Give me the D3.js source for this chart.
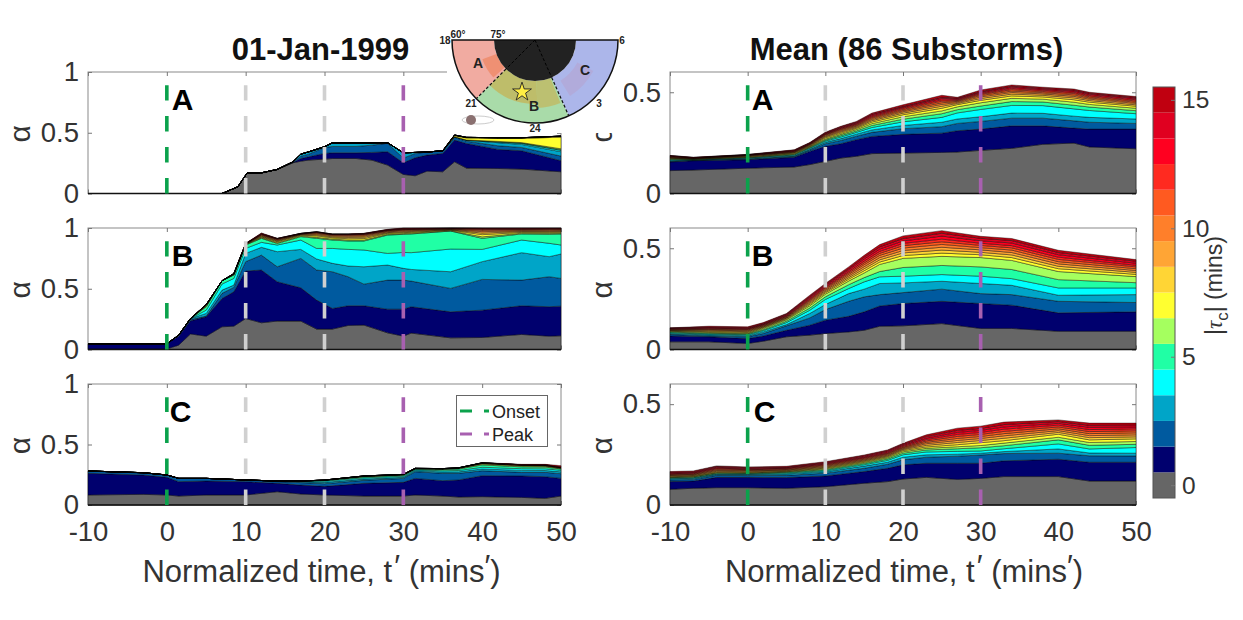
<!DOCTYPE html>
<html>
<head>
<meta charset="utf-8">
<script src="https://cdn.jsdelivr.net/npm/d3@7"></script>
<style>
  html, body { margin: 0; background: #fff; }
  svg { display: block; }
  text { font-family: "Liberation Sans", Arial, sans-serif; }
  .tick text { fill: #333; font-size: 27.5px; }
  .tick line { stroke: #777; }
  .box { fill: none; stroke: #8a8a8a; stroke-width: 1; }
</style>
</head>
<body>
<div id="chart"></div>
<script>
// layer thicknesses are alpha x 1000, one row per colour band, bottom band first
const bandColors = ['#666666', '#00006e', '#005a9f', '#00a5c8', '#00ffff', '#20ffa5', '#a5ff5f', '#ffff30',
  '#ffd535', '#ffa535', '#ff7f2a', '#ff5a20', '#ff2a20', '#ff0020', '#e00020', '#c00010'];
const xTicks = [-10, 0, 10, 20, 30, 40, 50];
const barTicks = [0, 5, 10, 15];

const eventATimes = [-10, 7, 9, 10.2, 12, 14, 16, 17, 18, 20, 21, 24, 26, 28, 30, 31.5, 33, 35, 36.5, 38, 42, 45, 50];
const eventA = [
  [0, 0, 55, 170, 170, 198, 253, 266, 275, 283, 288, 288, 275, 234, 157, 146, 184, 179, 261, 209, 206, 201, 179],
  [0, 0, 0, 0, 0, 0, 2, 22, 27, 47, 47, 47, 63, 110, 96, 148, 132, 151, 179, 203, 157, 151, 91],
  [0, 0, 0, 0, 0, 0, 3, 19, 22, 49, 52, 52, 60, 69, 38, 36, 25, 19, 22, 19, 30, 27, 38],
  [0, 0, 0, 0, 0, 0, 3, 17, 19, 6, 30, 30, 19, 5, 44, 8, 0, 3, 6, 8, 25, 25, 36],
  [0, 0, 0, 0, 0, 0, 0, 0, 0, 0, 0, 0, 0, 0, 0, 0, 0, 0, 0, 2, 6, 8, 11],
  [0, 0, 0, 0, 0, 0, 0, 0, 0, 0, 0, 0, 0, 0, 0, 0, 0, 0, 0, 0, 2, 3, 5],
  [0, 0, 0, 0, 0, 0, 0, 0, 0, 0, 0, 0, 0, 0, 0, 0, 0, 0, 0, 0, 3, 4, 8],
  [0, 0, 0, 0, 0, 0, 0, 0, 0, 0, 0, 0, 0, 0, 0, 0, 0, 0, 8, 16, 24, 34, 96],
  [0, 0, 0, 0, 0, 0, 0, 0, 0, 0, 0, 0, 0, 0, 0, 0, 0, 0, 5, 5, 6, 6, 8]
];

const eventBTimes = [-10, 0, 1.5, 3, 5, 7, 8.5, 10, 12, 14, 17, 19, 21, 23, 25, 28, 30, 31, 36, 40, 45, 48.5, 50];
const eventB = [
  [5, 5, 36, 128, 110, 187, 192, 255, 220, 234, 234, 168, 168, 198, 201, 137, 110, 135, 96, 99, 124, 110, 113],
  [42, 42, 74, 108, 159, 233, 283, 391, 434, 324, 274, 239, 170, 162, 159, 195, 222, 217, 214, 225, 236, 242, 244],
  [0, 0, 8, 11, 6, 42, 36, 77, 123, 123, 242, 247, 302, 239, 178, 239, 239, 211, 193, 253, 211, 247, 228],
  [0, 0, 0, 8, 22, 27, 19, 68, 64, 124, 74, 91, 69, 88, 143, 124, 97, 96, 137, 146, 226, 165, 201],
  [0, 0, 0, 0, 27, 50, 55, 41, 41, 55, 77, 87, 123, 137, 138, 96, 131, 138, 187, 101, 104, 110, 74],
  [0, 0, 0, 0, 28, 27, 28, 28, 33, 13, 28, 83, 69, 69, 74, 151, 149, 154, 148, 91, 50, 74, 91],
  [0, 0, 0, 0, 5, 0, 2, 3, 6, 6, 6, 8, 8, 8, 8, 6, 6, 6, 3, 12, 6, 8, 7],
  [0, 0, 0, 0, 5, 0, 3, 3, 6, 8, 6, 12, 10, 11, 12, 8, 8, 7, 4, 18, 7, 8, 7],
  [0, 0, 0, 0, 4, 0, 2, 2, 5, 6, 4, 8, 8, 10, 11, 6, 7, 7, 3, 13, 7, 7, 6],
  [0, 0, 0, 0, 3, 0, 2, 2, 5, 6, 3, 8, 8, 9, 10, 6, 7, 7, 3, 12, 6, 7, 7],
  [0, 0, 0, 0, 2, 0, 2, 1, 5, 5, 3, 7, 6, 8, 8, 5, 6, 6, 3, 10, 6, 7, 6],
  [0, 0, 0, 0, 0, 0, 1, 1, 4, 4, 2, 5, 4, 5, 5, 5, 5, 4, 3, 8, 5, 5, 5],
  [0, 0, 0, 0, 0, 0, 0, 0, 3, 3, 1, 3, 2, 3, 3, 3, 4, 3, 2, 5, 4, 3, 4],
  [0, 0, 0, 0, 0, 0, 0, 0, 3, 2, 1, 2, 2, 2, 3, 3, 3, 3, 2, 3, 3, 3, 3],
  [0, 0, 0, 0, 0, 0, 0, 0, 3, 1, 1, 1, 1, 1, 2, 3, 3, 3, 1, 2, 3, 2, 2],
  [0, 0, 0, 0, 0, 0, 1, 2, 4, 1, 0, 1, 1, 1, 1, 2, 3, 3, 1, 2, 2, 2, 2]
];

const eventCTimes = [-10, -3, 0, 1.5, 5, 10, 14, 17, 20, 25, 30, 31.5, 35, 37, 40, 45, 48, 50];
const eventC = [
  [83, 88, 83, 74, 83, 83, 110, 91, 83, 74, 74, 83, 74, 66, 69, 63, 55, 74],
  [179, 160, 146, 119, 115, 110, 69, 74, 71, 105, 113, 137, 127, 141, 173, 177, 179, 146],
  [19, 16, 19, 27, 22, 14, 14, 20, 22, 25, 33, 55, 61, 55, 41, 30, 36, 39],
  [0, 3, 0, 0, 0, 0, 5, 8, 11, 10, 9, 9, 11, 12, 15, 16, 15, 15],
  [0, 0, 0, 0, 0, 0, 0, 3, 10, 10, 9, 7, 10, 11, 14, 14, 14, 13],
  [0, 0, 0, 0, 0, 0, 0, 2, 6, 8, 8, 6, 10, 12, 19, 15, 14, 11],
  [0, 0, 0, 0, 0, 0, 0, 0, 2, 4, 3, 3, 4, 5, 8, 7, 7, 4],
  [0, 0, 0, 0, 0, 0, 0, 0, 1, 2, 2, 1, 2, 3, 4, 5, 4, 3],
  [0, 0, 0, 0, 0, 0, 0, 0, 0, 1, 1, 1, 1, 1, 2, 2, 2, 2],
  [0, 0, 0, 0, 0, 0, 0, 0, 0, 1, 1, 1, 1, 1, 2, 2, 2, 2],
  [0, 0, 0, 0, 0, 0, 0, 0, 0, 0, 0, 0, 0, 0, 1, 1, 2, 3],
  [0, 0, 0, 0, 0, 0, 0, 0, 0, 0, 0, 0, 0, 0, 0, 0, 0, 0],
  [0, 0, 0, 0, 0, 0, 0, 0, 0, 0, 0, 0, 0, 0, 0, 0, 0, 0],
  [0, 0, 0, 0, 0, 0, 0, 0, 0, 0, 0, 0, 0, 0, 1, 1, 2, 3],
  [0, 0, 0, 0, 0, 0, 0, 0, 0, 0, 0, 0, 0, 0, 0, 0, 0, 0],
  [0, 0, 0, 0, 0, 0, 0, 0, 0, 0, 0, 0, 0, 0, 1, 3, 4, 10]
];

const meanATimes = [-10, -7, 0, 6, 8, 10, 12, 14, 16, 20, 25, 27, 30, 34, 38, 42, 44, 50];
const meanA = [
  [113, 116, 125, 131, 143, 159, 175, 184, 197, 200, 203, 205, 213, 223, 243, 249, 230, 221],
  [43, 46, 42, 48, 65, 74, 71, 82, 85, 92, 95, 105, 105, 111, 91, 74, 88, 97],
  [3, 2, 3, 4, 6, 13, 16, 17, 20, 28, 32, 36, 38, 38, 38, 36, 34, 28],
  [3, 1, 3, 3, 4, 7, 9, 10, 12, 16, 22, 22, 23, 25, 24, 23, 24, 22],
  [4, 2, 3, 4, 5, 6, 8, 9, 12, 18, 24, 30, 36, 38, 38, 36, 34, 26],
  [3, 1, 2, 3, 4, 5, 7, 7, 10, 13, 18, 16, 17, 19, 18, 18, 17, 15],
  [3, 2, 2, 3, 3, 5, 6, 7, 9, 12, 14, 14, 16, 16, 14, 15, 13, 12],
  [2, 1, 2, 3, 3, 6, 6, 6, 8, 10, 13, 11, 12, 12, 11, 12, 11, 10],
  [2, 1, 2, 3, 3, 5, 6, 5, 7, 8, 10, 6, 9, 9, 8, 9, 8, 7],
  [2, 1, 2, 2, 3, 4, 5, 5, 6, 7, 9, 5, 8, 8, 7, 8, 7, 7],
  [2, 1, 2, 2, 3, 4, 5, 4, 6, 6, 8, 5, 7, 7, 6, 7, 6, 6],
  [2, 1, 1, 2, 2, 3, 4, 4, 5, 6, 8, 4, 6, 7, 6, 7, 6, 6],
  [2, 1, 1, 2, 2, 3, 4, 4, 5, 6, 7, 4, 5, 6, 6, 6, 6, 6],
  [2, 1, 1, 2, 2, 3, 3, 4, 5, 5, 7, 4, 5, 6, 5, 6, 6, 6],
  [1, 1, 1, 2, 2, 3, 4, 4, 5, 4, 6, 4, 4, 5, 5, 5, 5, 5],
  [1, 1, 1, 2, 2, 3, 3, 4, 5, 7, 9, 4, 7, 6, 5, 5, 5, 5]
];

const meanBTimes = [-10, -5, 0, 2, 5, 8, 10, 13, 15, 17, 20, 25, 30, 34, 40, 50];
const meanB = [
  [38, 38, 30, 41, 63, 71, 79, 87, 95, 115, 117, 128, 104, 104, 90, 90],
  [29, 25, 24, 26, 32, 49, 66, 77, 91, 100, 110, 110, 123, 115, 91, 96],
  [7, 4, 9, 12, 22, 36, 52, 74, 74, 56, 54, 60, 49, 52, 57, 46],
  [4, 5, 5, 8, 6, 22, 25, 38, 38, 55, 48, 39, 50, 46, 30, 39],
  [4, 4, 5, 6, 10, 16, 25, 25, 36, 33, 33, 33, 36, 33, 36, 33],
  [4, 4, 4, 5, 7, 11, 13, 19, 21, 26, 43, 45, 46, 45, 41, 26],
  [4, 4, 3, 6, 7, 11, 13, 18, 23, 35, 45, 45, 46, 45, 40, 30],
  [2, 4, 4, 4, 4, 7, 7, 9, 11, 12, 14, 16, 14, 14, 14, 11],
  [2, 4, 4, 3, 4, 6, 6, 8, 10, 11, 13, 15, 12, 13, 12, 10],
  [2, 4, 4, 3, 3, 6, 6, 8, 10, 11, 12, 14, 12, 12, 12, 9],
  [2, 3, 4, 3, 3, 6, 6, 8, 10, 11, 12, 14, 11, 12, 11, 9],
  [2, 3, 3, 3, 3, 5, 6, 7, 9, 10, 12, 13, 11, 11, 11, 9],
  [2, 3, 3, 3, 3, 5, 5, 7, 9, 10, 11, 13, 11, 11, 11, 8],
  [2, 3, 3, 3, 4, 6, 6, 8, 10, 11, 12, 15, 12, 13, 12, 10],
  [2, 3, 3, 3, 4, 5, 6, 7, 9, 11, 12, 14, 12, 12, 11, 10],
  [1, 4, 4, 4, 3, 6, 5, 8, 9, 11, 13, 13, 10, 10, 11, 8]
];

const meanCTimes = [-10, -7, -4, 0, 5, 10, 15, 18, 20, 23, 27, 30, 33, 40, 44, 50];
const meanC = [
  [78, 83, 86, 86, 83, 91, 108, 116, 129, 137, 127, 132, 141, 141, 119, 119],
  [38, 36, 51, 51, 53, 53, 58, 66, 70, 70, 80, 75, 78, 86, 93, 93],
  [8, 8, 10, 9, 11, 14, 16, 20, 25, 30, 35, 41, 36, 30, 32, 31],
  [6, 5, 5, 5, 7, 7, 11, 10, 13, 12, 10, 9, 10, 21, 14, 14],
  [3, 3, 3, 3, 4, 5, 7, 9, 12, 14, 14, 11, 14, 25, 20, 28],
  [3, 3, 3, 3, 4, 5, 6, 7, 8, 10, 13, 16, 15, 20, 18, 16],
  [2, 3, 3, 2, 3, 4, 5, 6, 7, 8, 10, 11, 13, 13, 14, 14],
  [2, 2, 2, 2, 2, 4, 4, 5, 6, 7, 10, 14, 12, 15, 13, 13],
  [3, 3, 4, 4, 3, 4, 4, 4, 5, 8, 11, 11, 12, 9, 11, 10],
  [3, 3, 4, 4, 3, 4, 4, 4, 4, 8, 10, 10, 12, 9, 10, 10],
  [3, 3, 4, 3, 3, 4, 4, 4, 4, 7, 10, 10, 11, 9, 10, 10],
  [3, 3, 4, 3, 3, 4, 4, 4, 4, 7, 10, 10, 11, 9, 10, 10],
  [3, 3, 4, 3, 3, 4, 4, 4, 5, 7, 10, 10, 11, 9, 10, 10],
  [3, 3, 4, 3, 3, 4, 4, 5, 5, 7, 10, 10, 11, 9, 11, 9],
  [4, 4, 4, 4, 3, 4, 5, 5, 5, 8, 10, 10, 12, 9, 10, 10],
  [4, 4, 3, 4, 4, 4, 4, 4, 4, 8, 11, 11, 12, 8, 11, 9]
];

const markerTimes = [0, 10, 20, 30];
const markerColors = ['#0ba24c', '#d0d0d0', '#d0d0d0', '#a860b0'];

const width = 1243, height = 620;
const svg = d3.select('#chart').append('svg').attr('width', width).attr('height', height);

const rows = [[72, 193.5], [228, 349.5], [384, 505]];
const columns = [
  { left: 88, right: 561, yMax: 1, yTicks: [0, 0.5, 1], markTop: 0.89 },
  { left: 670, right: 1136, yMax: 0.6, yTicks: [0, 0.5], markTop: 0.535 }
];
const panels = [
  { col: 0, row: 0, name: 'A', times: eventATimes, layers: eventA },
  { col: 0, row: 1, name: 'B', times: eventBTimes, layers: eventB },
  { col: 0, row: 2, name: 'C', times: eventCTimes, layers: eventC },
  { col: 1, row: 0, name: 'A', times: meanATimes, layers: meanA },
  { col: 1, row: 1, name: 'B', times: meanBTimes, layers: meanB },
  { col: 1, row: 2, name: 'C', times: meanCTimes, layers: meanC }
];

panels.forEach(p => {
  const c = columns[p.col];
  const [top, bottom] = rows[p.row];
  const x = d3.scaleLinear().domain([-10, 50]).range([c.left, c.right]);
  const y = d3.scaleLinear().domain([0, c.yMax]).range([bottom, top]);
  const g = svg.append('g');

  const table = p.times.map((t, i) => {
    const row = { t };
    bandColors.forEach((col, k) => { row[k] = p.layers[k] ? p.layers[k][i] / 1000 : 0; });
    return row;
  });
  const series = d3.stack().keys(d3.range(bandColors.length))(table);
  const area = d3.area().x(d => x(d.data.t)).y0(d => y(d[0])).y1(d => y(d[1]));

  g.append('rect').attr('class', 'box').attr('x', c.left).attr('y', top)
    .attr('width', c.right - c.left).attr('height', bottom - top);

  const bottomAxis = d3.axisBottom(x).tickValues(xTicks).tickSize(-4).tickPadding(16.5)
    .tickFormat(p.row === 2 ? d => String(d) : '');
  const topAxis = d3.axisTop(x).tickValues(xTicks).tickSize(-4).tickFormat('');
  const leftAxis = d3.axisLeft(y).tickValues(c.yTicks).tickSize(-4).tickPadding(9)
    .tickFormat(d => d === 0 || d === 1 ? d : '0.5');
  const rightAxis = d3.axisRight(y).tickValues(c.yTicks).tickSize(-4).tickFormat('');
  [[bottomAxis, `0,${bottom}`], [topAxis, `0,${top}`], [leftAxis, `${c.left},0`], [rightAxis, `${c.right},0`]]
    .forEach(([axis, tr]) => {
      const a = g.append('g').attr('transform', `translate(${tr})`).call(axis);
      a.select('.domain').remove();
    });

  g.selectAll('.band').data(series).enter().append('path')
    .attr('class', 'band')
    .attr('fill', s => bandColors[s.key])
    .attr('stroke', '#000')
    .attr('stroke-opacity', 0.7)
    .attr('stroke-width', 0.6)
    .attr('d', area);

  g.append('line').attr('x1', c.left).attr('x2', c.right).attr('y1', bottom).attr('y2', bottom)
    .attr('stroke', '#111').attr('stroke-width', 1.4);

  // dashes are laid out from the bottom upward
  markerTimes.forEach((t, i) => {
    g.append('line')
      .attr('x1', x(t)).attr('x2', x(t))
      .attr('y1', y(0)).attr('y2', y(c.markTop))
      .attr('stroke', markerColors[i])
      .attr('stroke-width', 3.6)
      .attr('stroke-dasharray', '15.5 15.5');
  });

  g.append('text').text(p.name)
    .attr('x', x(0) + (p.col === 0 ? (p.row === 2 ? 3 : 5) : (p.row === 2 ? 6 : 4)))
    .attr('y', top + 38)
    .attr('font-size', 30).attr('font-weight', 'bold').attr('fill', '#000');

  g.append('text').text('α')
    .attr('transform', `translate(${p.col === 0 ? 30 : 612},${(top + bottom) / 2 + 1}) rotate(-90)`)
    .attr('text-anchor', 'middle')
    .attr('font-family', 'Liberation Serif').attr('font-size', 30).attr('fill', '#333');

  if (p.row === 2) {
    const label = g.append('text')
      .attr('x', (c.left + c.right) / 2 - 3 + (p.col === 1 ? 4 : 0)).attr('y', 582)
      .attr('text-anchor', 'middle').attr('font-size', 31).attr('fill', '#333');
    label.append('tspan').text('Normalized time, t');
    label.append('tspan').text('′').attr('dy', -5).attr('dx', 2);
    label.append('tspan').text(' (mins').attr('dy', 5);
    label.append('tspan').text('′').attr('dy', -5);
    label.append('tspan').text(')').attr('dy', 5);
  }
});

svg.append('text').text('01-Jan-1999').attr('x', 320.5).attr('y', 60)
  .attr('text-anchor', 'middle').attr('font-size', 31).attr('font-weight', 'bold').attr('fill', '#111');
svg.append('text').text('Mean (86 Substorms)').attr('x', 906.5).attr('y', 60)
  .attr('text-anchor', 'middle').attr('font-size', 31).attr('font-weight', 'bold').attr('fill', '#111');

// legend in event panel C
const legend = svg.append('g');
legend.append('rect').attr('x', 456.5).attr('y', 395.5).attr('width', 91).attr('height', 51)
  .attr('fill', '#fff').attr('stroke', '#666').attr('stroke-width', 1);
[['Onset', '#0ba24c', 411], ['Peak', '#a860b0', 434]].forEach(([name, col, ly]) => {
  legend.append('line').attr('x1', 460).attr('x2', 489).attr('y1', ly).attr('y2', ly)
    .attr('stroke', col).attr('stroke-width', 3).attr('stroke-dasharray', '12 12');
  legend.append('text').text(name).attr('x', 492).attr('y', ly + 6.5)
    .attr('font-size', 18).attr('fill', '#222');
});

// colourbar
const barY = d3.scaleLinear().domain([-0.5, 15.5]).range([498, 87]);
const barX = 1153, barW = 22;
const bar = svg.append('g');
bar.selectAll('rect').data(bandColors).enter().append('rect')
  .attr('x', barX).attr('width', barW)
  .attr('y', (d, i) => barY(i + 0.5)).attr('height', (d, i) => barY(i - 0.5) - barY(i + 0.5))
  .attr('fill', d => d);
bar.append('rect').attr('class', 'box').attr('x', barX).attr('y', 87).attr('width', barW).attr('height', 411)
  .style('stroke', '#555');
const barAxis = bar.append('g').attr('transform', `translate(${barX + barW},0)`)
  .call(d3.axisRight(barY).tickValues(barTicks).tickSize(-4).tickPadding(7));
barAxis.select('.domain').remove();
barAxis.selectAll('text').style('font-size', '24.5px');

const barLabel = svg.append('text')
  .attr('transform', 'translate(1222,335) rotate(-90)')
  .attr('font-size', 23).attr('fill', '#333');
barLabel.append('tspan').text('|');
barLabel.append('tspan').text('τ').attr('font-family', 'Liberation Serif').attr('font-style', 'italic');
barLabel.append('tspan').text('c').attr('dy', 6).attr('font-size', 17);
barLabel.append('tspan').text('|').attr('dy', -6);
barLabel.append('tspan').text(' (mins)');

// auroral map inset, sits over the top right of event panel A
const inset = svg.append('g');
inset.append('rect').attr('x', 447).attr('y', 26).attr('width', 177).attr('height', 107).attr('fill', '#fff');
const map = inset.append('g').attr('transform', 'translate(535,40)');
const deg = Math.PI / 180;
const sectors = [
  { from: 225, to: 270, color: '#f1aba1' },
  { from: 156, to: 225, color: '#a9dba9' },
  { from: 90, to: 156, color: '#acb6ea' }
];
const patches = [
  { from: 228, to: 250, inner: 41, outer: 56, color: '#ee8560' },
  { from: 178, to: 225, inner: 41, outer: 64, color: '#c8b050' },
  { from: 158, to: 178, inner: 41, outer: 68, color: '#c4b55a' },
  { from: 118, to: 148, inner: 48, outer: 66, color: '#b4a6d4' }
];
const arc = d3.arc();
const sector = (s, inner, outer) => arc({ innerRadius: inner, outerRadius: outer, startAngle: s.from * deg, endAngle: s.to * deg });
sectors.forEach(s => {
  map.append('path').attr('d', sector(s, 41, 83)).attr('fill', s.color);
});
patches.forEach(s => {
  map.append('path').attr('d', sector(s, s.inner, s.outer)).attr('fill', s.color).attr('opacity', 0.7);
});
map.append('path').attr('d', sector({ from: 90, to: 270 }, 0, 41)).attr('fill', '#222');
map.append('path').attr('d', sector({ from: 90, to: 270 }, 0, 83))
  .attr('fill', 'none').attr('stroke', '#111').attr('stroke-width', 1.5);
[225, 156].forEach(a => {
  const sx = Math.sin(a * deg), cy = -Math.cos(a * deg);
  map.append('line').attr('x1', 41 * sx).attr('y1', 41 * cy).attr('x2', 83 * sx).attr('y2', 83 * cy)
    .attr('stroke', '#111').attr('stroke-width', 1.2).attr('stroke-dasharray', '3 2');
  map.append('line').attr('x1', 0).attr('y1', 0).attr('x2', 41 * sx).attr('y2', 41 * cy)
    .attr('stroke', '#000').attr('stroke-width', 1).attr('stroke-dasharray', '3 2');
});
map.append('path').attr('d', d3.symbol(d3.symbolStar, 110)())
  .attr('transform', 'translate(-13,52)').attr('fill', '#ffee44').attr('stroke', '#222').attr('stroke-width', 0.9);
[['18', 445, 44, 10], ['60°', 458, 38, 10], ['75°', 498, 38, 10], ['6', 622, 44, 10], ['21', 471, 107, 10],
  ['3', 599, 107, 10], ['24', 535, 132, 10], ['A', 478, 68, 14], ['B', 534, 111, 14], ['C', 585, 75, 14]]
  .forEach(([t, lx, ly, size]) => {
    inset.append('text').text(t).attr('x', lx).attr('y', ly).attr('text-anchor', 'middle')
      .attr('font-size', size).attr('font-weight', 'bold').attr('fill', '#222');
  });
inset.append('ellipse').attr('cx', 478).attr('cy', 120).attr('rx', 16).attr('ry', 4)
  .attr('fill', 'none').attr('stroke', '#ccc');
inset.append('circle').attr('cx', 471).attr('cy', 120).attr('r', 5).attr('fill', '#8a7070');
</script>
</body>
</html>
